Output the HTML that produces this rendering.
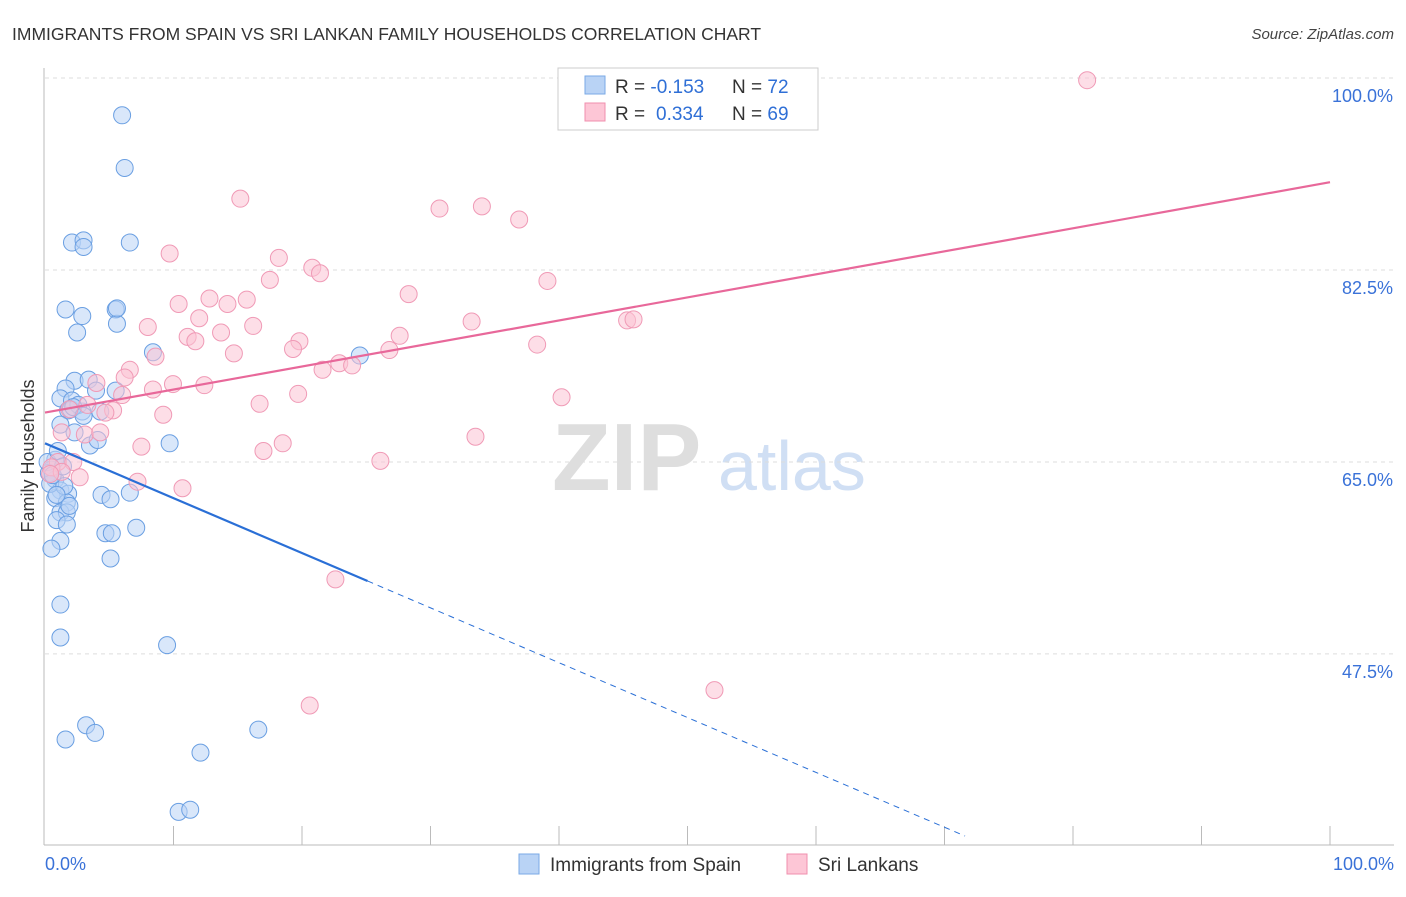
<!DOCTYPE html>
<html><head><meta charset="utf-8"><style>
body{margin:0;background:#fff;font-family:"Liberation Sans",sans-serif;}
svg text{font-family:"Liberation Sans",sans-serif;}
</style></head><body>
<svg id="chart" width="1406" height="892" xmlns="http://www.w3.org/2000/svg">
<text x="12" y="40" font-size="17.5" fill="#333">IMMIGRANTS FROM SPAIN VS SRI LANKAN FAMILY HOUSEHOLDS CORRELATION CHART</text>
<text x="1394" y="39" font-size="15" fill="#444" text-anchor="end" font-style="italic">Source: ZipAtlas.com</text>
<g>
<text x="552" y="490" font-size="96" fill="#dedede" font-family="Liberation Serif, serif" font-weight="bold">ZIP</text>
<text x="718" y="490" font-size="70" fill="#d0dff4">atlas</text>
</g>
<g id="grid"></g><g id="axes"></g><g id="pts"></g><g id="lines"></g>
<text transform="translate(34,456) rotate(-90)" font-size="18" fill="#333" text-anchor="middle">Family Households</text>
<g>
<rect x="558" y="68" width="260" height="62" fill="#fff" stroke="#ccc"/>
<rect x="585" y="76" width="20" height="18" fill="#b9d3f5" stroke="#7aaae6"/>
<rect x="585" y="103" width="20" height="18" fill="#fdc6d6" stroke="#f08fae"/>
<text x="615" y="93" font-size="19" fill="#333">R = <tspan fill="#2f6fd6">-0.153</tspan><tspan x="732">N = </tspan><tspan fill="#2f6fd6">72</tspan></text>
<text x="615" y="120" font-size="19" fill="#333">R = <tspan fill="#2f6fd6" x="656">0.334</tspan><tspan x="732">N = </tspan><tspan fill="#2f6fd6">69</tspan></text>
</g>
<g>
<rect x="519" y="854" width="20" height="20" fill="#b9d3f5" stroke="#7aaae6"/>
<text x="550" y="871" font-size="19" fill="#333">Immigrants from Spain</text>
<rect x="787" y="854" width="20" height="20" fill="#fdc6d6" stroke="#f08fae"/>
<text x="818" y="871" font-size="19" fill="#333">Sri Lankans</text>
</g>
</svg>
<script>
const yTicks=[100,82.5,65,47.5];
const yTickLabels=["100.0%","82.5%","65.0%","47.5%"];
const blueX=[6.0,6.2,2.1,3.0,3.0,6.6,1.6,2.9,5.5,5.6,2.5,8.4,24.5,2.3,3.4,1.6,3.97,5.5,1.2,2.1,1.8,2.9,4.3,1.2,2.3,3.5,4.1,9.7,0.8,0.5,0.8,1.2,1.8,0.8,1.7,4.4,5.1,6.6,1.2,1.7,0.9,1.7,4.7,5.2,7.1,1.2,0.5,5.1,1.2,1.2,9.5,3.2,3.9,1.6,16.6,12.1,10.4,11.3,0.3,0.4,0.2,1.0,2.0,2.6,1.5,5.6,2.2,0.6,1.4,3.0,0.9,1.9];
const blueY=[96.6,91.8,85.0,85.2,84.6,85.0,78.9,78.3,78.9,77.6,76.8,75.0,74.7,72.4,72.5,71.7,71.5,71.5,70.8,70.6,69.7,69.6,69.6,68.4,67.7,66.5,67.0,66.7,65.2,64.3,63.4,62.4,62.1,61.7,61.3,62.0,61.6,62.2,60.4,60.4,59.7,59.3,58.5,58.5,59.0,57.8,57.1,56.2,52.0,49.0,48.3,41.0,40.3,39.7,40.6,38.5,33.1,33.3,64.0,63.0,65.0,66.0,69.8,70.2,62.8,79.0,70.0,63.8,64.6,69.2,62.0,61.0];
const pinkX=[81.1,15.2,30.7,34.0,36.9,9.7,18.2,20.8,21.4,17.5,39.1,28.3,10.4,12.8,14.2,15.7,12.0,8.0,16.2,13.7,11.1,11.7,33.2,45.3,45.8,19.8,27.6,38.3,19.3,14.7,26.8,8.6,22.9,23.9,21.6,6.6,6.2,4.0,9.96,12.4,8.4,6.0,19.7,40.2,16.7,3.3,5.3,4.7,9.2,1.3,3.1,4.3,33.5,7.5,18.5,17.0,26.1,1.0,2.2,0.5,1.3,2.7,7.2,10.7,22.6,52.1,20.6,0.4,1.9];
const pinkY=[99.8,89.0,88.1,88.3,87.1,84.0,83.6,82.7,82.2,81.6,81.5,80.3,79.4,79.9,79.4,79.8,78.1,77.3,77.4,76.8,76.4,76.0,77.8,77.9,78.0,76.0,76.5,75.7,75.3,74.9,75.2,74.6,74.0,73.8,73.4,73.4,72.7,72.2,72.1,72.0,71.6,71.1,71.2,70.9,70.3,70.2,69.7,69.5,69.3,67.7,67.5,67.7,67.3,66.4,66.7,66.0,65.1,65.0,65.0,64.5,64.1,63.6,63.2,62.6,54.3,44.2,42.8,63.9,69.8];
const blueTrend=[66.7,-0.5];   // intercept, slope
const pinkTrend=[69.5,0.21];
const NS="http://www.w3.org/2000/svg";
const X=v=>45+v*12.85, Y=v=>78+(100-v)*10.97;
function mk(t,a,p){const e=document.createElementNS(NS,t);for(const k in a)e.setAttribute(k,a[k]);document.getElementById(p).appendChild(e);return e;}
yTicks.forEach((t,i)=>{
 const l=mk('line',{x1:45,x2:1394,y1:Y(t),y2:Y(t),stroke:'#ddd','stroke-dasharray':'4,4'},'grid');
 
 
 const tx=mk('text',{x:1393,y:Y(t)+24,'font-size':18,fill:'#3a72d8','text-anchor':'end'},'grid');
 tx.textContent=yTickLabels[i];
 
 
});
let a=mk('line',{x1:44,x2:44,y1:68,y2:845,stroke:'#bbb'},'axes');


a=mk('line',{x1:44,x2:1394,y1:845,y2:845,stroke:'#bbb'},'axes');


for(let i=1;i<=10;i++){const t=mk('line',{x1:X(i*10),x2:X(i*10),y1:826,y2:845,stroke:'#bbb'},'axes');
 
 }
[["0.0%",45,'start'],["100.0%",1394,'end']].forEach(d=>{const t=mk('text',{x:d[1],y:870,'font-size':18,fill:'#3a72d8','text-anchor':d[2]},'axes');t.textContent=d[0];
 
 });
function dots(xs,ys,f,s,name){xs.forEach((x,i)=>{const c=mk('circle',{cx:X(x),cy:Y(ys[i]),r:8.5,fill:f,'fill-opacity':0.55,stroke:s,'stroke-width':1},'pts');
 
 });}
dots(blueX,blueY,'#b9d3f5','#6a9fe2','spain-point');
dots(pinkX,pinkY,'#fcc3d3','#f09ab6','srilankan-point');
const bx2=25.1, bx3=71.6;
let l=mk('line',{x1:X(0),y1:Y(blueTrend[0]),x2:X(bx2),y2:Y(blueTrend[0]+blueTrend[1]*bx2),stroke:'#2a6fd6','stroke-width':2.2},'lines');


l=mk('line',{x1:X(bx2),y1:Y(blueTrend[0]+blueTrend[1]*bx2),x2:X(bx3),y2:Y(blueTrend[0]+blueTrend[1]*bx3),stroke:'#2a6fd6','stroke-width':1,'stroke-dasharray':'6,5'},'lines');


l=mk('line',{x1:X(0),y1:Y(pinkTrend[0]),x2:X(100),y2:Y(pinkTrend[0]+pinkTrend[1]*100),stroke:'#e8689a','stroke-width':2.2},'lines');


</script>
</body></html>
